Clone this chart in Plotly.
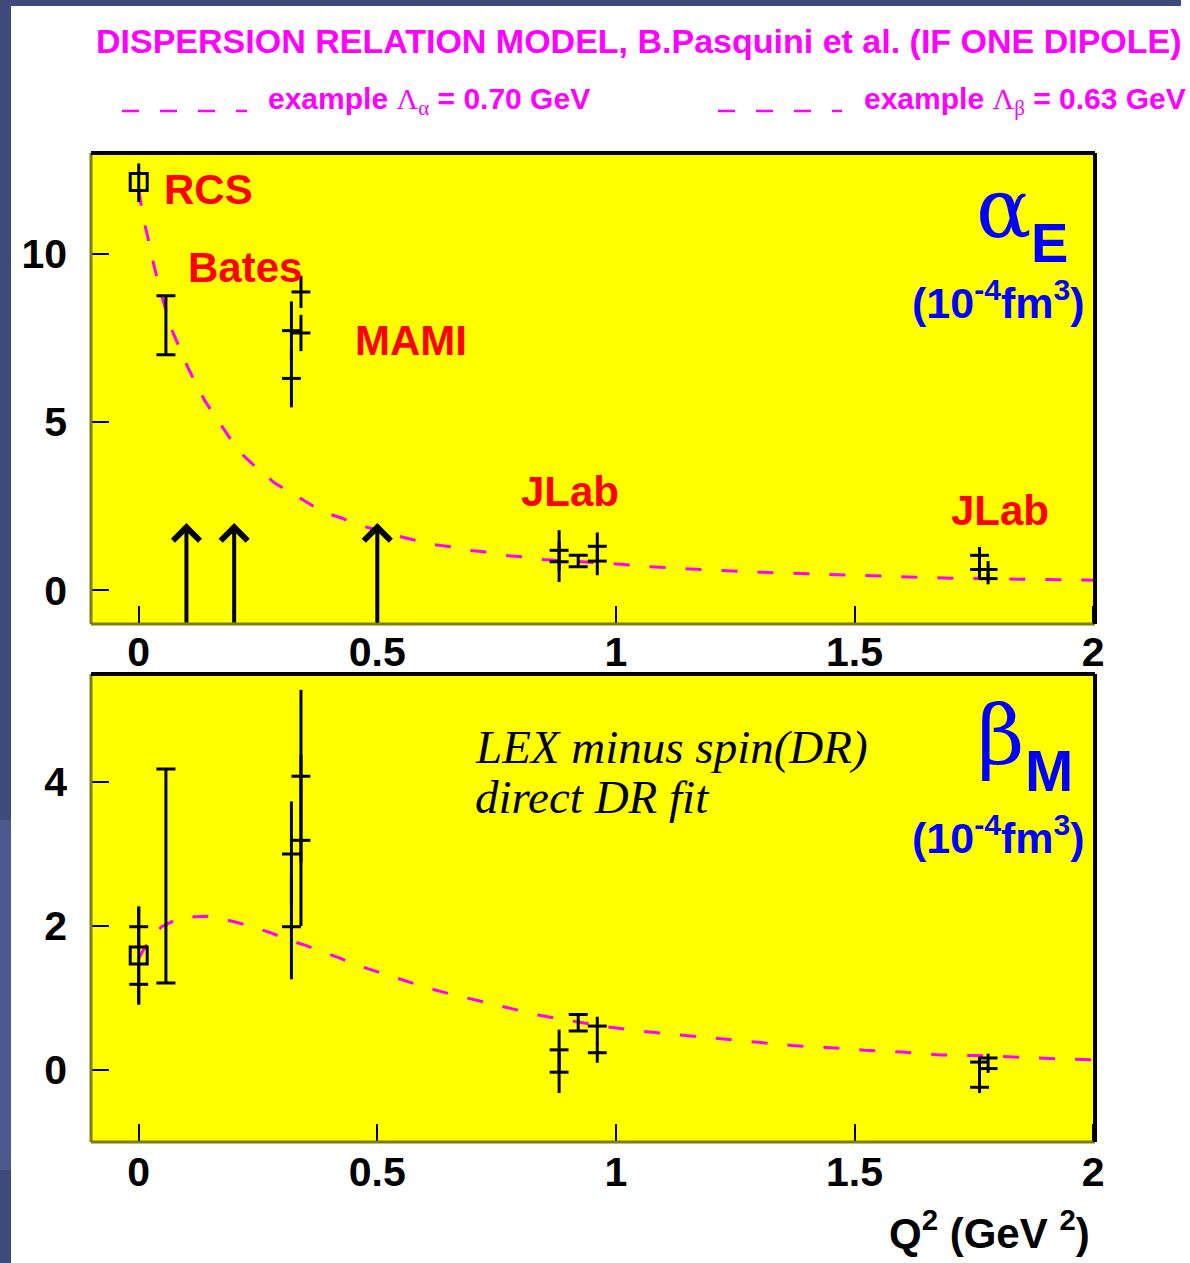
import plotly.graph_objects as go

W, H = 1190, 1263
XS = 1181  # effective horizontal extent observed for the rendered page

# ---------------- data ----------------
# Q^2 axis ticks
x_ticks = [0, 0.5, 1, 1.5, 2]

# ---- alpha_E panel ----
aE_tick_x = [0.32, 0.32, 0.34, 0.34, 0.881, 0.881, 0.961, 0.961, 1.762, 1.762, 1.78, 1.78]
aE_tick_y = [7.72, 6.30, 8.87, 7.65, 1.19, 0.85, 1.31, 0.87, 1.04, 0.62, 0.62, 0.35]
aE_tick_ep = [0.87, 0.86, 0.48, 0.54, 0.60, 0.60, 0.41, 0.42, 0.25, 0.27, 0.25, 0.17]
aE_tick_em = [0.87, 0.86, 0.48, 0.54, 0.60, 0.60, 0.41, 0.42, 0.25, 0.27, 0.25, 0.17]

aE_cap_x = [0.057, 0.921]
aE_cap_y = [7.88, 0.87]
aE_cap_e = [0.88, 0.17]

aE_rcs_x = [0.0]
aE_rcs_y = [12.14]
aE_rcs_ep = [0.55]
aE_rcs_em = [0.60]

alpha_curve_x = [0.0, 0.009, 0.019, 0.032, 0.048, 0.069, 0.10, 0.117, 0.14, 0.16, 0.19,
                 0.22, 0.25, 0.285, 0.32, 0.355, 0.386, 0.425, 0.46, 0.516, 0.537, 0.579,
                 0.614, 0.656, 0.69, 0.73, 0.767, 0.81, 0.847, 0.90, 0.98, 1.066, 1.14,
                 1.22, 1.30, 1.38, 1.46, 1.54, 1.62, 1.70, 1.85, 1.93, 2.0]
alpha_curve_y = [11.9, 11.1, 10.5, 9.65, 8.76, 7.76, 6.72, 6.22, 5.60, 5.17, 4.55,
                 4.00, 3.60, 3.19, 2.90, 2.60, 2.33, 2.15, 1.94, 1.74, 1.64, 1.49,
                 1.37, 1.29, 1.19, 1.14, 1.04, 0.99, 0.92, 0.87, 0.81, 0.705, 0.64,
                 0.59, 0.54, 0.50, 0.47, 0.43, 0.40, 0.36, 0.33, 0.31, 0.30]

arrow_x = [0.1, 0.2, 0.5]
arrow_tip = 2.0

# ---- beta_M panel ----
bM_tick_x = [0.0, 0.0, 0.32, 0.32, 0.34, 0.34, 0.881, 0.881, 0.961, 0.961, 1.762, 1.762, 1.78, 1.78]
bM_tick_y = [1.99, 1.19, 3.00, 1.99, 4.08, 3.19, 0.28, -0.03, 0.61, 0.24, 0.11, -0.24, 0.167, 0.02]
bM_tick_ep = [0.28, 0.28, 0.73, 0.73, 1.20, 1.19, 0.28, 0.29, 0.13, 0.14, 0.07, 0.20, 0.06, 0.09]
bM_tick_em = [0.28, 0.28, 0.73, 0.73, 1.20, 1.19, 0.28, 0.29, 0.25, 0.14, 0.20, 0.08, 0.06, 0.06]

bM_cap_x = [0.057, 0.921]
bM_cap_y = [2.695, 0.655]
bM_cap_e = [1.485, 0.115]

bM_rcs_x = [0.0]
bM_rcs_y = [1.59]
bM_rcs_e = [0.68]

beta_curve_x = [0.0, 0.01, 0.021, 0.035, 0.048, 0.065, 0.082, 0.10, 0.122, 0.14, 0.161,
                0.20, 0.238, 0.275, 0.312, 0.35, 0.385, 0.423, 0.46, 0.497, 0.526, 0.55,
                0.60, 0.65, 0.70, 0.75, 0.80, 0.84, 0.90, 0.98, 1.05, 1.13, 1.21, 1.29,
                1.37, 1.45, 1.52, 1.60, 1.68, 1.76, 1.84, 1.92, 2.0]
beta_curve_y = [1.55, 1.67, 1.78, 1.90, 1.99, 2.05, 2.10, 2.12, 2.13, 2.135, 2.12,
                2.06, 1.99, 1.91, 1.81, 1.73, 1.64, 1.55, 1.45, 1.37, 1.30, 1.25,
                1.15, 1.06, 0.98, 0.90, 0.82, 0.76, 0.69, 0.60, 0.54, 0.49, 0.43, 0.38,
                0.34, 0.31, 0.275, 0.25, 0.21, 0.20, 0.175, 0.157, 0.14]

# ---------------- styling helpers ----------------
def px(v):
    return v / XS

def py(v):
    return 1 - v / H

MAG = "#ff00ff"
RED = "#ff0000"
BLUE = "#0000ff"
SANS = "Liberation Sans"
SERIF = "Liberation Serif"
GREEK = "DejaVu Serif"

fig = go.Figure()

def add_panel(xa, ya, tx, ty, tep, tem, cx, cy, ce, rx, ry, rep, rem, curx, cury):
    # model curve
    fig.add_trace(go.Scatter(x=curx, y=cury, mode="lines", xaxis=xa, yaxis=ya,
                             line=dict(color=MAG, width=3, dash="16px,20px"),
                             hoverinfo="skip", showlegend=False))
    # points with central tick
    fig.add_trace(go.Scatter(x=tx, y=ty, mode="markers", xaxis=xa, yaxis=ya,
                             marker=dict(symbol="line-ew", size=13.5, color="black",
                                         line=dict(color="black", width=3)),
                             error_y=dict(type="data", symmetric=False, array=tep,
                                          arrayminus=tem, width=0, thickness=3,
                                          color="black"),
                             showlegend=False))
    # capped points
    fig.add_trace(go.Scatter(x=cx, y=cy, mode="markers", xaxis=xa, yaxis=ya,
                             marker=dict(size=1, color="rgba(0,0,0,0)"),
                             error_y=dict(type="data", array=ce, width=9.5,
                                          thickness=3, color="black"),
                             showlegend=False))
    # RCS box
    fig.add_trace(go.Scatter(x=rx, y=ry, mode="markers", xaxis=xa, yaxis=ya,
                             marker=dict(symbol="square-open", size=17, color="black",
                                         line=dict(color="black", width=3)),
                             error_y=dict(type="data", symmetric=False, array=rep,
                                          arrayminus=rem, width=0, thickness=3,
                                          color="black"),
                             showlegend=False))

add_panel("x", "y", aE_tick_x, aE_tick_y, aE_tick_ep, aE_tick_em,
          aE_cap_x, aE_cap_y, aE_cap_e, aE_rcs_x, aE_rcs_y, aE_rcs_ep, aE_rcs_em,
          alpha_curve_x, alpha_curve_y)
add_panel("x2", "y2", bM_tick_x, bM_tick_y, bM_tick_ep, bM_tick_em,
          bM_cap_x, bM_cap_y, bM_cap_e, bM_rcs_x, bM_rcs_y, bM_rcs_e, bM_rcs_e,
          beta_curve_x, beta_curve_y)

x_dom = [px(91), px(1095)]
axis_common = dict(showgrid=False, zeroline=False, showline=False, ticks="inside",
                   ticklen=18, tickwidth=1.5, tickcolor="black",
                   tickfont=dict(family=SANS, size=41, color="black", weight="bold"))

fig.update_layout(
    width=W, height=H, autosize=False, margin=dict(l=0, r=0, t=0, b=0),
    paper_bgcolor="white", plot_bgcolor="#ffff00", showlegend=False,
    xaxis=dict(domain=x_dom, range=[-0.1, 2.004], anchor="y", tickvals=x_ticks,
               ticktext=[str(v) for v in x_ticks], ticklabelstandoff=0, **axis_common),
    yaxis=dict(domain=[py(624), py(153)], range=[-1, 13], anchor="x", dtick=5,
               ticklabelstandoff=23, **axis_common),
    xaxis2=dict(domain=x_dom, range=[-0.1, 2.004], anchor="y2", tickvals=x_ticks,
                ticktext=[str(v) for v in x_ticks], ticklabelstandoff=2, **axis_common),
    yaxis2=dict(domain=[py(1142), py(674)], range=[-1, 5.5], anchor="x2", dtick=2,
                ticklabelstandoff=23, **axis_common),
)

shapes = []
# page decoration strips
shapes.append(dict(type="rect", xref="paper", yref="paper", x0=0, x1=px(11), y0=0, y1=1,
                   fillcolor="#3e4a79", line=dict(width=0), layer="below"))
shapes.append(dict(type="rect", xref="paper", yref="paper", x0=0, x1=px(11), y0=py(1170),
                   y1=py(820), fillcolor="#4a5a8f", line=dict(width=0), layer="below"))
shapes.append(dict(type="rect", xref="paper", yref="paper", x0=0, x1=1, y0=py(6), y1=1,
                   fillcolor="#3e4a79", line=dict(width=0), layer="below"))
# frames
for xa, ya in (("x", "y"), ("x2", "y2")):
    xr, yr = xa + " domain", ya + " domain"
    shapes.append(dict(type="line", xref=xr, yref=yr, x0=0, x1=0, y0=0, y1=1,
                       line=dict(color="#7d7d10", width=3)))
    shapes.append(dict(type="line", xref=xr, yref=yr, x0=0, x1=1, y0=0, y1=0,
                       line=dict(color="#7d7d10", width=3)))
    shapes.append(dict(type="line", xref=xr, yref=yr, x0=0, x1=1, y0=1, y1=1,
                       line=dict(color="black", width=4)))
    shapes.append(dict(type="line", xref=xr, yref=yr, x0=1, x1=1, y0=0, y1=1,
                       line=dict(color="black", width=4)))
# legend dashes
for x0, x1 in ((122, 247), (718, 842)):
    shapes.append(dict(type="line", xref="paper", yref="paper", x0=px(x0), x1=px(x1),
                       y0=py(111), y1=py(111), line=dict(color=MAG, width=2.5, dash="17px,21px")))
fig.update_layout(shapes=shapes)

ann = []
def text(x, y, s, size, color, xanchor="center", family=SANS, weight="bold", style="normal"):
    ann.append(dict(x=px(x), y=py(y), xref="paper", yref="paper", text=s, showarrow=False,
                    xanchor=xanchor, yanchor="middle",
                    font=dict(family=family, size=size, color=color, weight=weight, style=style)))

text(639, 41, "DISPERSION RELATION MODEL, B.Pasquini et al. (IF ONE DIPOLE)", 34, MAG)
lam = "<span style='font-family:Liberation Serif;font-weight:normal'>Λ<sub>%s</sub></span>"
text(266, 101, "example " + lam % "α" + " = 0.70 GeV", 30, MAG, xanchor="left")
text(862, 101, "example " + lam % "β" + " = 0.63 GeV", 30, MAG, xanchor="left")

text(208, 190, "RCS", 42, RED)
text(245, 267, "Bates", 42, RED)
text(411, 341, "MAMI", 42, RED)
text(570, 492, "JLab", 42, RED)
text(1000, 510, "JLab", 42, RED)

text(1003, 208, "α", 82, BLUE, family=GREEK, weight="normal")
text(1049, 243, "E", 56, BLUE)
text(998, 300, "(10<sup>-4</sup>fm<sup>3</sup>)", 43, BLUE)
text(1000, 735, "β", 82, BLUE, family=GREEK, weight="normal")
text(1049, 770, "M", 58, BLUE)
text(998, 835, "(10<sup>-4</sup>fm<sup>3</sup>)", 43, BLUE)

text(473, 747, "LEX minus spin(DR)", 47, "black", xanchor="left", family=SERIF,
     weight="normal", style="italic")
text(473, 797, "direct DR fit", 47, "black", xanchor="left", family=SERIF,
     weight="normal", style="italic")

text(1092, 1230, "Q<sup>2</sup> (GeV <sup>2</sup>)", 42, "black", xanchor="right")

for xv in arrow_x:
    ann.append(dict(x=xv, y=arrow_tip, ax=xv, ay=-1.0, xref="x", yref="y", axref="x",
                    ayref="y", text="", showarrow=True, arrowhead=4, arrowsize=1.3,
                    arrowwidth=4, arrowcolor="black", standoff=0, startstandoff=0))

fig.update_layout(annotations=ann)

fig.write_html("out.html", config={"responsive": False, "displayModeBar": False},
               post_script="document.body.style.margin='0';document.body.style.overflow='hidden';")
